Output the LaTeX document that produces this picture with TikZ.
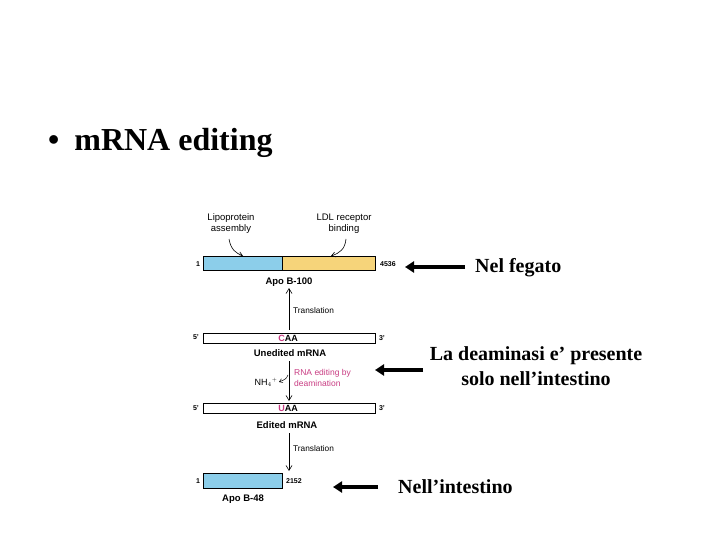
\documentclass[tikz,border=0pt]{standalone}
\usepackage{fontspec}
\setmainfont{Liberation Serif}
\setsansfont{Liberation Sans}
\usetikzlibrary{arrows.meta}
\definecolor{apoblue}{RGB}{140,206,234}
\definecolor{apoyellow}{RGB}{246,212,122}
\definecolor{edpink}{RGB}{200,60,130}
\tikzset{
  sm/.style={font=\sffamily\fontsize{9.5}{11}\selectfont, inner sep=0pt},
  tiny/.style={font=\sffamily\bfseries\fontsize{7}{8}\selectfont, inner sep=0pt},
  lbl/.style={font=\sffamily\bfseries\fontsize{9.5}{11}\selectfont, inner sep=0pt},
  tr/.style={font=\sffamily\fontsize{8.3}{10}\selectfont, inner sep=0pt, anchor=west},
  big/.style={font=\bfseries\fontsize{20}{25}\selectfont, inner sep=0pt, align=center},
  bar/.style={draw=black, line width=0.7pt},
  thin/.style={draw=black, line width=0.6pt, -{Straight Barb[length=5pt,width=6pt]}},
  fat/.style={draw=black, line width=4pt, -{Triangle[length=9pt,width=11pt]}},
}
\begin{document}
\begin{tikzpicture}[x=1pt,y=-1pt]
\useasboundingbox (0,0) rectangle (720,540);
% title
\node[anchor=base west, font=\bfseries\fontsize{32}{36}\selectfont, inner sep=0pt] (title) at (48,151) {\textbullet\hspace{15pt}mRNA editing};

% top labels
\node[sm, align=center] (lip) at (231,224) {Lipoprotein\\assembly};
\node[sm, align=center] (ldl) at (344,224) {LDL receptor\\binding};

% bar 1
\fill[apoblue] (203,256) rectangle (282,270);
\fill[apoyellow] (282,256) rectangle (375,270);
\draw[bar] (203,256) rectangle (375,270);
\draw[black, line width=0.5pt] (282,256) -- (282,270);
\coordinate (b1l) at (243,256);
\coordinate (b1r) at (331,256);
\node[tiny] (one1) at (198,264) {1};
\node[tiny, anchor=west] (n4536) at (380,264) {4536};
\draw[line width=0.6pt, -{Straight Barb[length=4pt,width=5pt]}] (229,239) .. controls (231,250) and (236,253) .. (b1l);
\draw[line width=0.6pt, -{Straight Barb[length=4pt,width=5pt]}] (346,239) .. controls (345,249) and (340,253) .. (b1r);
\node[lbl] (apo100) at (289,282) {Apo B-100};

% translation 1
\coordinate (t1s) at (289,330);
\coordinate (t1e) at (289,288);
\draw[thin] (t1s) -- (t1e);
\node[tr] (tr1) at (293,311) {Translation};

% bar 2
\draw[bar, fill=white] (203,333) rectangle (375,343);
\node[tiny] (p5a) at (196,337) {5'};
\node[tiny] (p3a) at (382,338) {3'};
\node[lbl, font=\sffamily\bfseries\fontsize{9}{10}\selectfont] (caa) at (288,338) {\textcolor{edpink}{C}AA};
\node[lbl] (unedited) at (290,353) {Unedited mRNA};

% editing arrow
\coordinate (e1s) at (289,361);
\coordinate (e1e) at (289,401);
\draw[thin] (e1s) -- (e1e);
\node[sm, font=\sffamily\fontsize{9}{10}\selectfont] (nh4) at (266,382) {NH$_4$$^{\scriptscriptstyle+}$};
\draw[line width=0.5pt, -{Straight Barb[length=3pt,width=4pt]}] (288,375) .. controls (286,379) .. (279,382);
\node[sm, text=edpink, align=left, anchor=west, font=\sffamily\fontsize{8.5}{10.5}\selectfont] (rnaed) at (294,378) {RNA editing by\\deamination};

% bar 3
\draw[bar, fill=white] (203,403) rectangle (375,413);
\node[tiny] (p5b) at (196,408) {5'};
\node[tiny] (p3b) at (382,408) {3'};
\node[lbl, font=\sffamily\bfseries\fontsize{9}{10}\selectfont] (uaa) at (288,408) {\textcolor{edpink}{U}AA};
\node[lbl] (edited) at (287,425) {Edited mRNA};

% translation 2
\coordinate (t2s) at (289,433);
\coordinate (t2e) at (289,471);
\draw[thin] (t2s) -- (t2e);
\node[tr] (tr2) at (293,449) {Translation};

% bar 4
\fill[apoblue] (203,473) rectangle (282,488);
\draw[bar] (203,473) rectangle (282,488);
\node[tiny] (one2) at (198,481) {1};
\node[tiny, anchor=west] (n2152) at (286,481) {2152};
\node[lbl] (apo48) at (243,499) {Apo B-48};

% right side
\node[big, anchor=west] (fegato) at (475,268) {Nel fegato};
\coordinate (a1e) at (405,267);
\draw[fat] (465,267) -- (a1e);

\node[big] (deam) at (536,366) {La deaminasi e' presente\\solo nell'intestino};
\coordinate (a2e) at (375,370);
\draw[fat] (423,370) -- (a2e);

\node[big, anchor=west] (intest) at (398,487) {Nell'intestino};
\coordinate (a3e) at (333,487);
\draw[fat] (378,487) -- (a3e);
\end{tikzpicture}
\end{document}
